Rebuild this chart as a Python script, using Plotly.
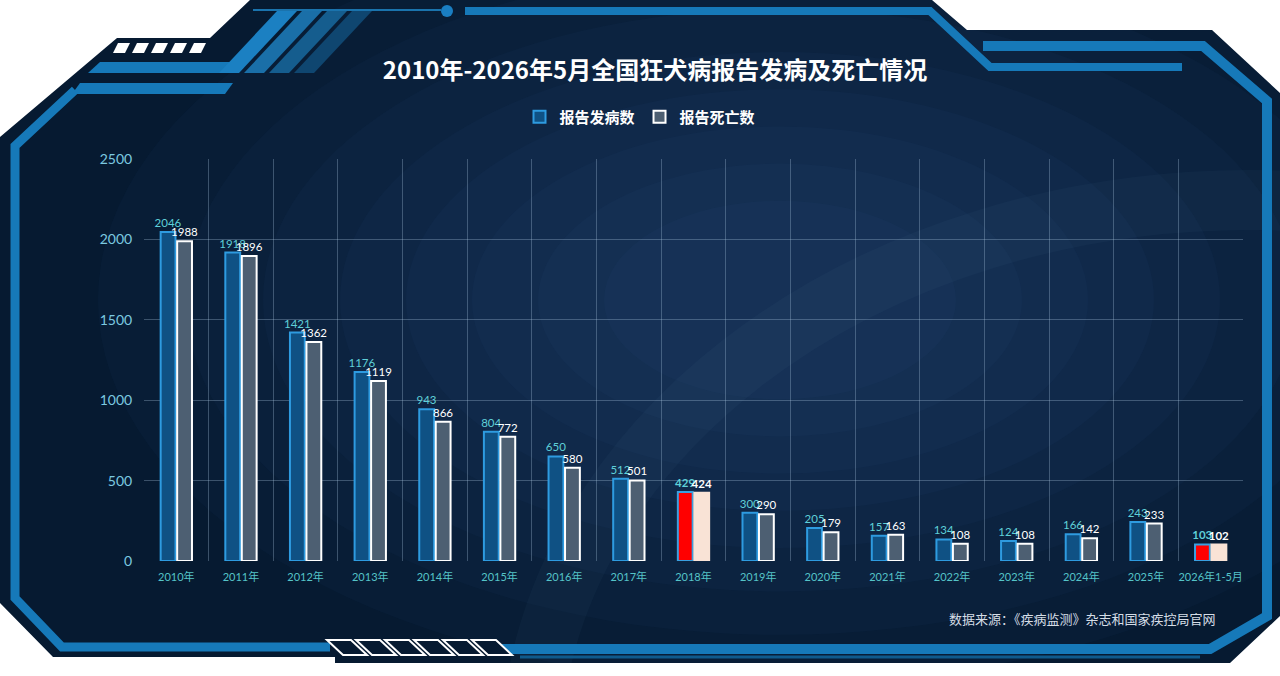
import plotly.graph_objects as go

W, H = 1280, 676

categories = ["2010年", "2011年", "2012年", "2013年", "2014年", "2015年", "2016年", "2017年",
              "2018年", "2019年", "2020年", "2021年", "2022年", "2023年", "2024年", "2025年", "2026年1-5月"]
cases = [2046, 1918, 1421, 1176, 943, 804, 650, 512, 429, 300, 205, 157, 134, 124, 166, 243, 103]
deaths = [1988, 1896, 1362, 1119, 866, 772, 580, 501, 424, 290, 179, 163, 108, 108, 142, 233, 102]
highlight = ["2018年", "2026年1-5月"]
y_ticks = [0, 500, 1000, 1500, 2000, 2500]

title_text = "2010年-2026年5月全国狂犬病报告发病及死亡情况"
source_text = "数据来源：《疾病监测》杂志和国家疾控局官网"

CJK = "Noto Sans CJK SC"
NUM = "Lato, Noto Sans CJK SC"


def px(x, y):
    return x / W, 1 - y / H


def path(points, close=True):
    s = ""
    for i, (x, y) in enumerate(points):
        X, Y = px(x, y)
        s += ("M" if i == 0 else "L") + f"{X:.5f},{Y:.5f}"
    if close:
        s += "Z"
    return s


shapes = []


def add_poly(points, fill, line=None, lw=0):
    shapes.append(dict(type="path", path=path(points), xref="paper", yref="paper",
                       fillcolor=fill, line=dict(color=line or "rgba(0,0,0,0)", width=lw), layer="below"))


def add_line(points, color, lw):
    shapes.append(dict(type="path", path=path(points, False), xref="paper", yref="paper",
                       line=dict(color=color, width=lw), layer="below"))


def add_circle(cx, cy, rx, ry, fill, opacity=1.0, line=None, lw=0):
    x0, y1 = px(cx - rx, cy - ry)
    x1, y0 = px(cx + rx, cy + ry)
    shapes.append(dict(type="circle", xref="paper", yref="paper", x0=x0, x1=x1, y0=y0, y1=y1,
                       fillcolor=fill, opacity=opacity,
                       line=dict(color=line or "rgba(0,0,0,0)", width=lw), layer="below"))


BLUE = "#1679b9"
DARK = "#061a31"
WHITE = "#ffffff"

# outer dark frame (full rectangle; outside parts masked afterwards)
add_poly([(0, 0), (1280, 0), (1280, 676), (0, 676)], DARK)

# soft glow in centre
for r in [620, 540, 470, 400, 340, 280, 220, 160]:
    add_circle(780, 300, r * 1.1, r * 0.62, "#3b7db0", 0.045)
# faint reflection band
add_circle(1250, 760, 720, 560, "rgba(0,0,0,0)", 1.0, "rgba(140,185,220,0.035)", 60)

# white masks outside the frame
add_poly([(0, 0), (250, 0), (210, 38), (117, 38), (0, 137)], WHITE)
add_poly([(932, 0), (1280, 0), (1280, 93), (1212, 30), (967, 30)], WHITE)
add_poly([(1280, 616), (1280, 676), (0, 676), (0, 603), (53, 657), (335, 657), (335, 663),
          (1230, 663)], WHITE)

# left + bottom blue line
add_line([(75, 90), (15, 146), (15, 598), (62, 647), (330, 647)], BLUE, 9)
# bottom right + right + top right band
add_line([(500, 649), (1210, 649), (1267, 616), (1267, 101), (1203, 46), (983, 46)], BLUE, 10)
add_line([(520, 657), (1200, 657)], "#0f5a8c", 3)
# top band
add_line([(465, 11), (930, 11), (990, 67), (1182, 67)], BLUE, 8)
# thin top line + dot
add_line([(253, 10), (441, 10)], "#1a73ad", 2)
add_circle(447, 11, 6, 6, "#1a7ec2")
# lower-left horizontal bar
add_poly([(80, 83), (233, 83), (225, 94), (72, 94)], BLUE)
# upper-left band
add_poly([(88, 73), (100, 62), (232, 62), (222, 73)], BLUE)
# diagonal stripes
for i, c in enumerate(["#1b80c2", "#1a6fa8", "#155d8e", "#0f4670"]):
    x0 = 219 + 25 * i
    add_poly([(x0, 73), (x0 + 20, 73), (x0 + 78, 11), (x0 + 58, 11)], c)
# white dashes
for i in range(5):
    x0 = 113 + 19 * i
    add_poly([(x0, 53), (x0 + 12, 53), (x0 + 17, 43), (x0 + 5, 43)], WHITE)
# hollow parallelograms at bottom
for i in range(6):
    x0 = 327 + 29 * i
    add_poly([(x0, 640), (x0 + 24, 640), (x0 + 40, 655), (x0 + 16, 655)], DARK, WHITE, 2)

# bar styles
case_fill = ["#ff0000" if c in highlight else "#0f5184" for c in categories]
case_line = ["#3aa0e0" if c in highlight else "#2e9be0" for c in categories]
death_fill = ["#f9e3d6" if c in highlight else "#4d5f72" for c in categories]
death_line = ["#f9e3d6" if c in highlight else "#ffffff" for c in categories]
case_txt = [f"<b>{v}</b>" if c in highlight else str(v) for c, v in zip(categories, cases)]
death_txt = [f"<b>{v}</b>" if c in highlight else str(v) for c, v in zip(categories, deaths)]

fig = go.Figure()
fig.add_trace(go.Bar(
    x=categories, y=cases, name="<b>报告发病数</b>",
    marker=dict(color=case_fill, line=dict(color=case_line, width=2)),
    text=case_txt, textposition="outside", constraintext="none", cliponaxis=False,
    textfont=dict(color="#5fd0d8", size=11.5, family=NUM),
))
fig.add_trace(go.Bar(
    x=categories, y=deaths, name="<b>报告死亡数</b>",
    marker=dict(color=death_fill, line=dict(color=death_line, width=2)),
    text=death_txt, textposition="outside", constraintext="none", cliponaxis=False,
    textfont=dict(color="#ffffff", size=11.5, family=NUM),
))

grid = "rgba(170,200,225,0.32)"
fig.update_layout(
    width=W, height=H,
    margin=dict(l=0, r=0, t=0, b=0),
    paper_bgcolor="#ffffff",
    plot_bgcolor="rgba(0,0,0,0)",
    barmode="group", bargap=0.49, bargroupgap=0.1,
    shapes=shapes,
    title=dict(text=f"<b>{title_text}</b>", x=655 / W, y=1 - 71 / H, xanchor="center", yanchor="middle",
               font=dict(family=CJK, size=24, color="#ffffff")),
    legend=dict(orientation="h", x=640 / W, y=1 - 117 / H, xanchor="center", yanchor="middle",
                font=dict(family=CJK, size=15, color="#ffffff"), bgcolor="rgba(0,0,0,0)",
                itemwidth=30, tracegroupgap=0),
    xaxis=dict(domain=[144 / W, 1243 / W], tickson="boundaries", showgrid=True, gridcolor=grid,
               gridwidth=1, ticks="", ticklabelstandoff=8, tickangle=0,
               tickfont=dict(family=NUM, size=11, color="#55c4c8"),
               showline=False, automargin=False, fixedrange=True),
    yaxis=dict(domain=[1 - 561 / H, 1 - 159 / H], range=[0, 2500], tickvals=y_ticks,
               showgrid=True, gridcolor=grid, gridwidth=1, zeroline=False,
               ticks="outside", ticklen=8, tickcolor="rgba(0,0,0,0)",
               tickfont=dict(family=NUM, size=14, color="#7cc9e0"), automargin=False, fixedrange=True),
    annotations=[dict(text=source_text, xref="paper", yref="paper", x=1218 / W, y=1 - 618 / H,
                      xanchor="right", yanchor="middle", showarrow=False,
                      font=dict(family=CJK, size=13, color="#d5dde6"))],
    showlegend=True,
)

fig.write_html("out.html")
